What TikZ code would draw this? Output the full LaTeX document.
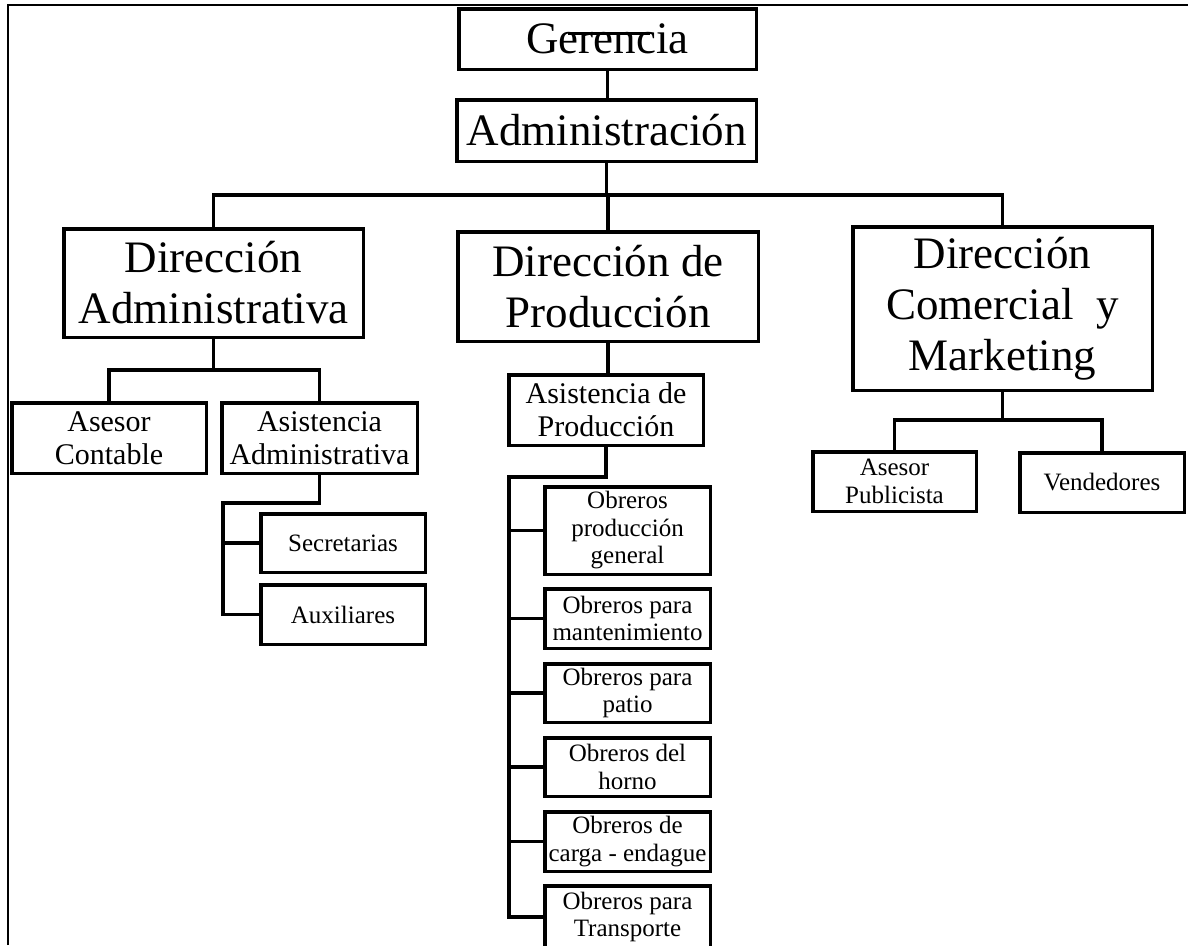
\documentclass[tikz,border=0pt]{standalone}
\usepackage{fontspec}
\setmainfont{Liberation Serif}
\usetikzlibrary{calc}
\tikzset{
  orgbox/.style={draw, line width=3.5pt, inner sep=0pt, align=center, fill=white},
  bigtxt/.style={font={\fontsize{45}{51}\selectfont}},
  midtxt/.style={font={\fontsize{30}{33}\selectfont}},
  smalltxt/.style={font={\fontsize{25}{27.5}\selectfont}},
  link/.style={line width=3.5pt, line join=miter},
  framestyle/.style={line width=2pt}
}
\begin{document}
\begin{tikzpicture}[x=1pt,y=-1pt]
\useasboundingbox (0,0) rectangle (1188,945);
\clip (0,0) rectangle (1188,945);
\fill[white] (0,0) rectangle (1188,945);
\draw[framestyle] (8,945) -- (8,5) -- (1188,5);

% top levels
\node[orgbox,bigtxt,minimum width=297.5pt,minimum height=60.5pt] (ger) at (607.5,39) {Gerencia};
\node[orgbox,bigtxt,minimum width=299.5pt,minimum height=61.5pt] (adm) at (606.5,130.5) {Administración};

% directions
\node[orgbox,bigtxt,minimum width=299.5pt,minimum height=108.5pt] (da) at (213.5,283) {Dirección\\Administrativa};
\node[orgbox,bigtxt,minimum width=300.5pt,minimum height=109.5pt] (dp) at (608,286.5) {Dirección de\\Producción};
\node[orgbox,bigtxt,minimum width=299.5pt,minimum height=163.5pt] (dc) at (1002.5,308.5) {Dirección\\Comercial\ \ y\\Marketing};

% administrative branch
\node[orgbox,midtxt,minimum width=194.5pt,minimum height=70.5pt] (ac) at (109,438) {Asesor\\Contable};
\node[orgbox,midtxt,minimum width=195.5pt,minimum height=70.5pt] (aa) at (319.5,438) {Asistencia\\Administrativa};
\node[orgbox,smalltxt,minimum width=164.5pt,minimum height=58.5pt] (sec) at (343,543) {Secretarias};
\node[orgbox,smalltxt,minimum width=164.5pt,minimum height=59.5pt] (aux) at (343,614.5) {Auxiliares};

% production branch
\node[orgbox,midtxt,minimum width=194.5pt,minimum height=70.5pt] (ap) at (606,410) {Asistencia de\\Producción};
\node[orgbox,smalltxt,minimum width=165.5pt,minimum height=87.5pt] (o1) at (627.5,530.5) {Obreros\\producción\\general};
\node[orgbox,smalltxt,minimum width=165.5pt,minimum height=59.5pt] (o2) at (627.5,618.5) {Obreros para\\mantenimiento};
\node[orgbox,smalltxt,minimum width=165.5pt,minimum height=58.5pt] (o3) at (627.5,693) {Obreros para\\patio};
\node[orgbox,smalltxt,minimum width=165.5pt,minimum height=58.5pt] (o4) at (627.5,767) {Obreros del\\horno};
\node[orgbox,smalltxt,minimum width=165.5pt,minimum height=59.5pt] (o5) at (627.5,841.5) {Obreros de\\carga - endague};
\node[orgbox,smalltxt,minimum width=165.5pt,minimum height=62.5pt] (o6) at (627.5,917) {Obreros para\\Transporte};

% commercial branch
\node[orgbox,smalltxt,minimum width=163.5pt,minimum height=59.5pt] (apub) at (894.5,481.5) {Asesor\\Publicista};
\node[orgbox,smalltxt,minimum width=164.5pt,minimum height=59.5pt] (ven) at (1102,482.5) {Vendedores};

% helper coordinates
\coordinate (busy) at (0,195);
\coordinate (daB) at (0,370);
\coordinate (aaT) at (223,503);
\coordinate (apT) at (509,477);
\coordinate (dcB) at (0,420);

% connectors
\draw[link] (ger.south) -- (ger.south |- adm.north);
\draw[link] (adm.south) -- (adm.south |- busy);
\draw[link] (da.north) -- (da.north |- busy) -- (dc.north |- busy) -- (dc.north);
\draw[link] (dp.north) -- (dp.north |- busy);

\draw[link] (da.south) -- (da.south |- daB);
\draw[link] (ac.north) -- (ac.north |- daB) -- (aa.north |- daB) -- (aa.north);

\draw[link] (aa.south) -- (aa.south |- aaT) -- (aaT) -- (aaT |- aux.west) -- (aux.west);
\draw[link] (aaT |- sec.west) -- (sec.west);

\draw[link] (dp.south) -- (dp.south |- ap.north);
\draw[link] (ap.south) -- (ap.south |- apT) -- (apT) -- (apT |- o6.west) -- (o6.west);
\draw[link] (apT |- o1.west) -- (o1.west);
\draw[link] (apT |- o2.west) -- (o2.west);
\draw[link] (apT |- o3.west) -- (o3.west);
\draw[link] (apT |- o4.west) -- (o4.west);
\draw[link] (apT |- o5.west) -- (o5.west);

\draw[link] (dc.south) -- (dc.south |- dcB);
\draw[link] (apub.north) -- (apub.north |- dcB) -- (ven.north |- dcB) -- (ven.north);

% stray mark over "Gerencia"
\draw[line width=3pt] ($(ger.center)+(-39.5,-5.5)$) -- ++(82,0);
\end{tikzpicture}
\end{document}
